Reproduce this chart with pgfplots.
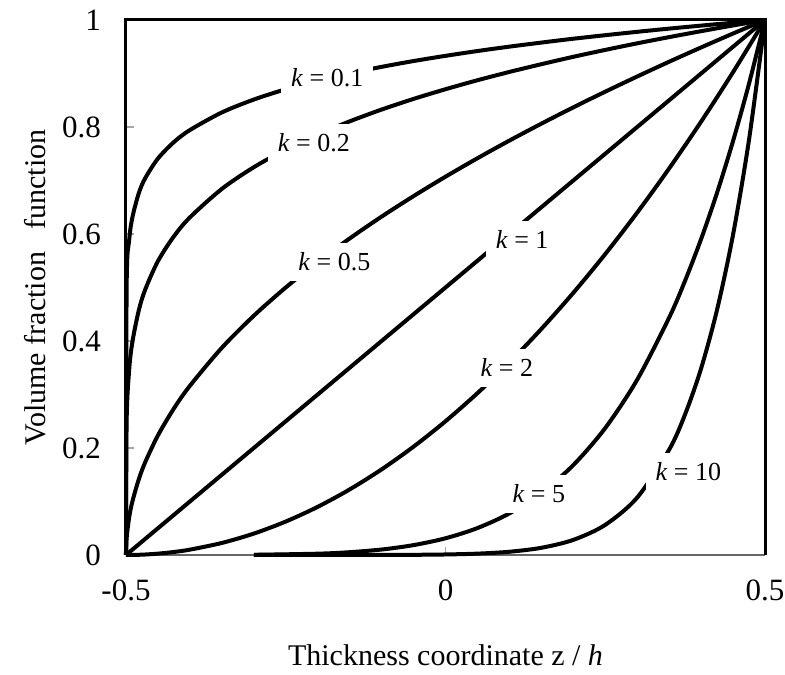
\documentclass[border=0pt]{standalone}
\usepackage{fontspec}
\setmainfont{Liberation Serif}
\usepackage{pgfplots}
\pgfplotsset{compat=1.18}
\usepackage{pgfplotstable}
\pgfplotstableread{
z k01 k02 k05 k1 k2
-0.5 0 0 0 0 0
-0.499 0.5012 0.2512 0.0316 0.001 0.000001
-0.495 0.5887 0.3466 0.0707 0.005 0.000025
-0.49 0.6310 0.3981 0.1 0.01 0.0001
-0.48 0.6762 0.4573 0.1414 0.02 0.0004
-0.47 0.7042 0.4959 0.1732 0.03 0.0009
-0.45 0.7411 0.5493 0.2236 0.05 0.0025
-0.425 0.7718 0.5957 0.2739 0.075 0.005625
-0.4 0.7943 0.6310 0.3162 0.1 0.01
-0.35 0.8272 0.6843 0.3873 0.15 0.0225
-0.3 0.8513 0.7248 0.4472 0.2 0.04
-0.25 0.8706 0.7579 0.5 0.25 0.0625
-0.2 0.8866 0.7860 0.5477 0.3 0.09
-0.15 0.9003 0.8105 0.5916 0.35 0.1225
-0.1 0.9124 0.8326 0.6325 0.4 0.16
-0.05 0.9233 0.8525 0.6708 0.45 0.2025
0 0.9330 0.8706 0.7071 0.5 0.25
0.05 0.9420 0.8874 0.7416 0.55 0.3025
0.1 0.9502 0.9029 0.7746 0.6 0.36
0.15 0.9578 0.9174 0.8062 0.65 0.4225
0.2 0.9650 0.9312 0.8367 0.7 0.49
0.25 0.9716 0.9441 0.8660 0.75 0.5625
0.3 0.9779 0.9564 0.8944 0.8 0.64
0.35 0.9839 0.9680 0.9220 0.85 0.7225
0.4 0.9895 0.9791 0.9487 0.9 0.81
0.45 0.9949 0.9898 0.9747 0.95 0.9025
0.5 1 1 1 1 1
}\tabA
\pgfplotstableread{
z k5 k10
-0.3 0.00032 0.0000001
-0.2 0.00243 0.0000059
-0.15 0.00525 0.0000276
-0.1 0.01024 0.000105
-0.05 0.01845 0.00034
0 0.03125 0.000977
0.05 0.05033 0.002533
0.1 0.07776 0.006047
0.15 0.11603 0.013463
0.2 0.16807 0.028248
0.25 0.23730 0.056314
0.3 0.32768 0.107374
0.35 0.44371 0.196874
0.375 0.5129 0.2631
0.4 0.59049 0.348678
0.425 0.6772 0.4586
0.45 0.77378 0.598737
0.475 0.8811 0.7763
0.5 1 1
}\tabB
\begin{document}
\begin{tikzpicture}
\begin{axis}[
  scale only axis, width=319.5pt, height=267.5pt,
  xmin=-0.5, xmax=0.5, ymin=0, ymax=1,
  xtick={-0.5,0,0.5}, xticklabels={-0.5,0,0.5},
  ytick={0,0.2,0.4,0.6,0.8,1}, yticklabels={0,0.2,0.4,0.6,0.8,1},
  tick pos=left,
  tick align=inside, major tick length=4pt,
  tick style={gray!70, line width=0.6pt},
  separate axis lines,
  x axis line style={gray!80!black, line width=1.2pt},
  y axis line style={line width=1.5pt},
  ticklabel style={font=\fontsize{15.5}{18}\selectfont},
  xticklabel style={yshift=-9pt},
  yticklabel style={xshift=-9pt},
  xlabel={Thickness coordinate z / \textit{h}},
  ylabel={Volume fraction\ \ \ function},
  xlabel style={font=\fontsize{15}{18}\selectfont, at={(axis description cs:0.5,-0.1869)}, anchor=center},
  ylabel style={font=\fontsize{15}{18}\selectfont, at={(axis description cs:-0.1424,0.5)}, anchor=center},
  clip=false,
]
\draw[line width=1.5pt] (rel axis cs:0,0) -- (rel axis cs:0,1) -- (rel axis cs:1,1) -- (rel axis cs:1,0);
\addplot[black, line width=2pt, smooth] table[x=z,y=k01] {\tabA};
\addplot[black, line width=2pt, smooth] table[x=z,y=k02] {\tabA};
\addplot[black, line width=2pt, smooth] table[x=z,y=k05] {\tabA};
\addplot[black, line width=2pt] table[x=z,y=k1] {\tabA};
\addplot[black, line width=2pt, smooth] table[x=z,y=k2] {\tabA};
\addplot[black, line width=2pt, smooth] table[x=z,y=k5] {\tabB};
\addplot[black, line width=2pt, smooth] table[x=z,y=k10] {\tabB};
\tikzset{lab/.style={fill=white, inner sep=5pt, font=\fontsize{13}{15}\selectfont}}
\node[lab] at (axis cs:-0.185,0.892) {\textit{k} = 0.1};
\node[lab] at (axis cs:-0.206,0.770) {\textit{k} = 0.2};
\node[lab] at (axis cs:-0.174,0.548) {\textit{k} = 0.5};
\node[lab] at (axis cs:0.120,0.589) {\textit{k} = 1};
\node[lab] at (axis cs:0.096,0.350) {\textit{k} = 2};
\node[lab] at (axis cs:0.146,0.114) {\textit{k} = 5};
\node[lab] at (axis cs:0.380,0.155) {\textit{k} = 10};
\coordinate (sw) at (rel axis cs:0,0);
\coordinate (ne) at (rel axis cs:1,1);
\end{axis}
\pgfresetboundingbox
\path[use as bounding box] ([shift={(-63pt,-60pt)}]sw) rectangle ([shift={(10pt,10pt)}]ne);
\end{tikzpicture}
\end{document}
